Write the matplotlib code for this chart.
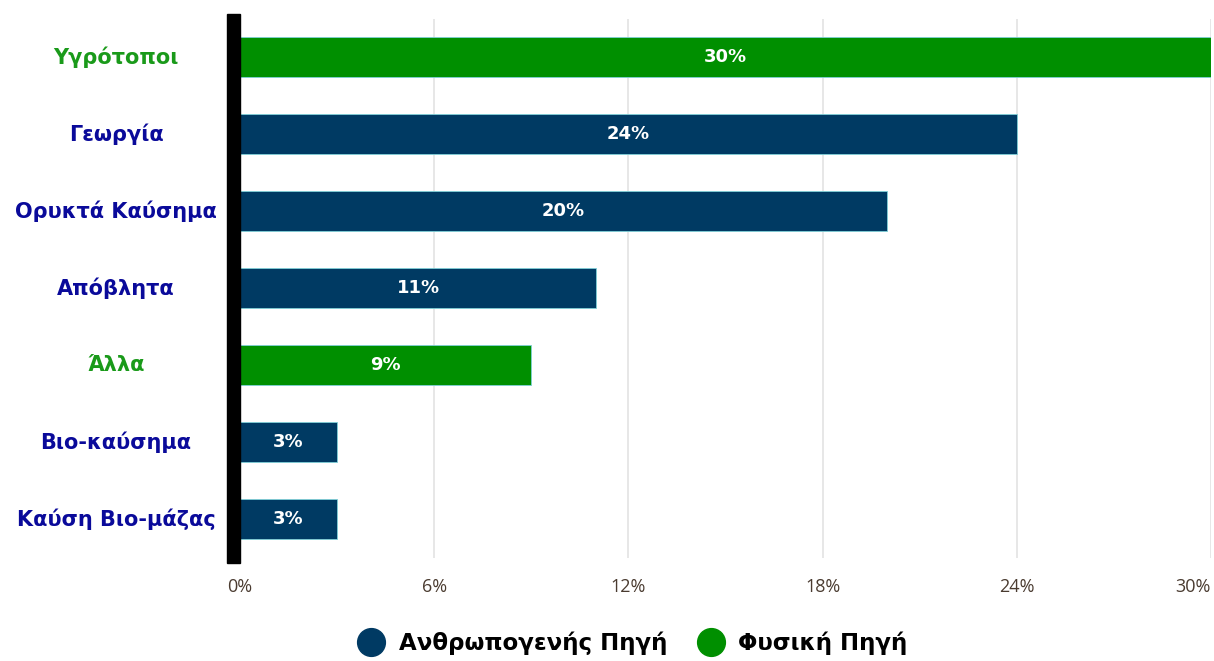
import matplotlib
matplotlib.use("Agg")
import matplotlib.pyplot as plt
from matplotlib.patches import Rectangle
from matplotlib.lines import Line2D

categories = ["Υγρότοποι", "Γεωργία", "Ορυκτά Καύσημα", "Απόβλητα", "Άλλα", "Βιο-καύσημα", "Καύση Βιο-μάζας"]
values = [30, 24, 20, 11, 9, 3, 3]
source = ["Φυσική Πηγή", "Ανθρωπογενής Πηγή", "Ανθρωπογενής Πηγή", "Ανθρωπογενής Πηγή",
          "Φυσική Πηγή", "Ανθρωπογενής Πηγή", "Ανθρωπογενής Πηγή"]
xticks = [0, 6, 12, 18, 24, 30]
xtick_labels = ["0%", "6%", "12%", "18%", "24%", "30%"]
legend_labels = ["Ανθρωπογενής Πηγή", "Φυσική Πηγή"]

bar_colors = {"Ανθρωπογενής Πηγή": "#003A63", "Φυσική Πηγή": "#008F00"}
label_colors = {"Ανθρωπογενής Πηγή": "#0A0A9A", "Φυσική Πηγή": "#1A9A1A"}

W, H = 1214, 661
fig = plt.figure(figsize=(W / 100, H / 100), dpi=100)
ax = fig.add_axes([240 / W, 1 - 557.5 / H, (1211 - 240) / W, (557.5 - 18.5) / H])

ypos = list(range(len(categories)))
cols = [bar_colors[s] for s in source]
bars = ax.barh(ypos, values, height=0.52, color=cols, edgecolor="#7fd0d8", linewidth=0.6, zorder=3)
for b, v in zip(bars, values):
    ax.text(v / 2, b.get_y() + b.get_height() / 2, f"{v}%", ha="center", va="center",
            color="white", fontsize=13, fontweight="bold", zorder=4)

ax.set_ylim(len(categories) - 0.5, -0.5)
ax.set_xlim(0, 30)
ax.set_xticks(xticks)
ax.set_xticklabels(xtick_labels, fontsize=13, color="#4a3b30", fontfamily="Open Sans")
ax.get_xticklabels()[-1].set_horizontalalignment("right")
ax.tick_params(axis="x", length=0, pad=15)
ax.set_yticks([])
ax.grid(axis="x", color="#e3e3e3", linewidth=1.2, zorder=0)
for s in ax.spines.values():
    s.set_visible(False)

# category labels
for y, c, s in zip(ypos, categories, source):
    ax.text(-124 / 32.37, y, c, ha="center", va="center", color=label_colors[s],
            fontsize=15, fontweight="bold", transform=ax.transData, clip_on=False)

# thick black axis bar
fig.add_artist(Rectangle((227 / W, 1 - 563 / H), 13 / W, (563 - 14) / H,
                         transform=fig.transFigure, color="black", zorder=5))

handles = [Line2D([], [], marker="o", linestyle="", markersize=20, markerfacecolor=bar_colors[l],
                  markeredgecolor=bar_colors[l]) for l in legend_labels]
leg = fig.legend(handles, legend_labels, loc="center", bbox_to_anchor=(628 / W, 1 - 643 / H),
                 ncol=2, frameon=False, prop={"size": 16.5, "weight": "bold"}, handletextpad=0.2,
                 columnspacing=0.9)

fig.savefig("out.png", dpi=100)
